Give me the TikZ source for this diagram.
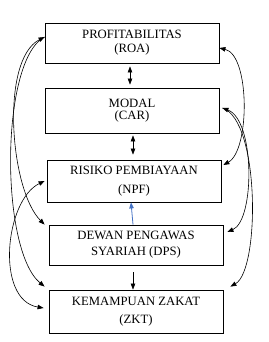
\documentclass[tikz,border=0pt]{standalone}
\usepackage{fontspec}
\setmainfont{Liberation Serif}
\usetikzlibrary{arrows.meta}
\definecolor{accentblue}{RGB}{68,114,196}

\begin{document}
\begin{tikzpicture}[
          x=1pt, y=-1pt,
          >={Triangle[length=6pt,width=4.5pt]},
          varbox/.style={draw, line width=0.8pt, minimum width=174pt, align=center, inner sep=0pt, font=\fontsize{12.7}{17}\selectfont},
          link/.style={draw, line width=0.6pt}
        ]
          \useasboundingbox (0,0) rectangle (268,342);
          \node[varbox, minimum height=40pt] (roa) at (132,43) {PROFITABILITAS\\[-3pt](ROA)};
          \node[varbox, minimum height=45pt] (car) at (132,110.5) {MODAL\\[-5pt](CAR)};
          \node[varbox, minimum height=42pt] (npf) at (134,181) {RISIKO PEMBIAYAAN\\[1.5pt](NPF)};
          \node[varbox, minimum height=40pt] (dps) at (136,245) {DEWAN PENGAWAS\\[-1pt]SYARIAH (DPS)};
          \node[varbox, minimum height=43pt] (zkt) at (136,311.5) {KEMAMPUAN ZAKAT\\[0.7pt](ZKT)};

          \draw[link, <->, shorten <=3pt, shorten >=3pt] ([xshift=-2pt]roa.south) -- ([xshift=-2pt]car.north);
          \draw[link, <->, shorten <=2pt, shorten >=5pt] ([xshift=1pt]car.south) -- ([xshift=-1pt]npf.north);
          \draw[link, ->, accentblue, line width=0.8pt] ([xshift=-3pt]dps.north) -- ([xshift=-3pt]npf.south);
          \draw[link, ->, shorten <=7pt] ([xshift=-3pt]dps.south) -- ([xshift=-3pt]zkt.north);

          \draw[link, <->] ([yshift=6pt]roa.west) .. controls (0,60) and (10,190) .. ([xshift=-4pt]dps.north west);
          \draw[link, ->] ([yshift=6pt]roa.west) .. controls (0,60) and (0,250) .. ([shift={(-4pt,3pt)}]zkt.north west);
          \draw[link, <->] ([xshift=-2pt]npf.west) .. controls (5,200) and (-5,300) .. ([shift={(-5pt,3.5pt)}]zkt.west);

          \draw[link, <->] ([yshift=-5pt]roa.east) .. controls (250,55) and (250,150) .. ([shift={(2pt,16pt)}]npf.east);
          \draw[link, <->] ([shift={(3pt,2.5pt)}]car.east) .. controls (255,120) and (255,220) .. ([shift={(4pt,13pt)}]dps.east);
          \draw[link, ->] ([shift={(3pt,2.5pt)}]car.east) .. controls (260,120) and (260,270) .. ([shift={(7pt,3pt)}]zkt.north east);
        \end{tikzpicture}
\end{document}
